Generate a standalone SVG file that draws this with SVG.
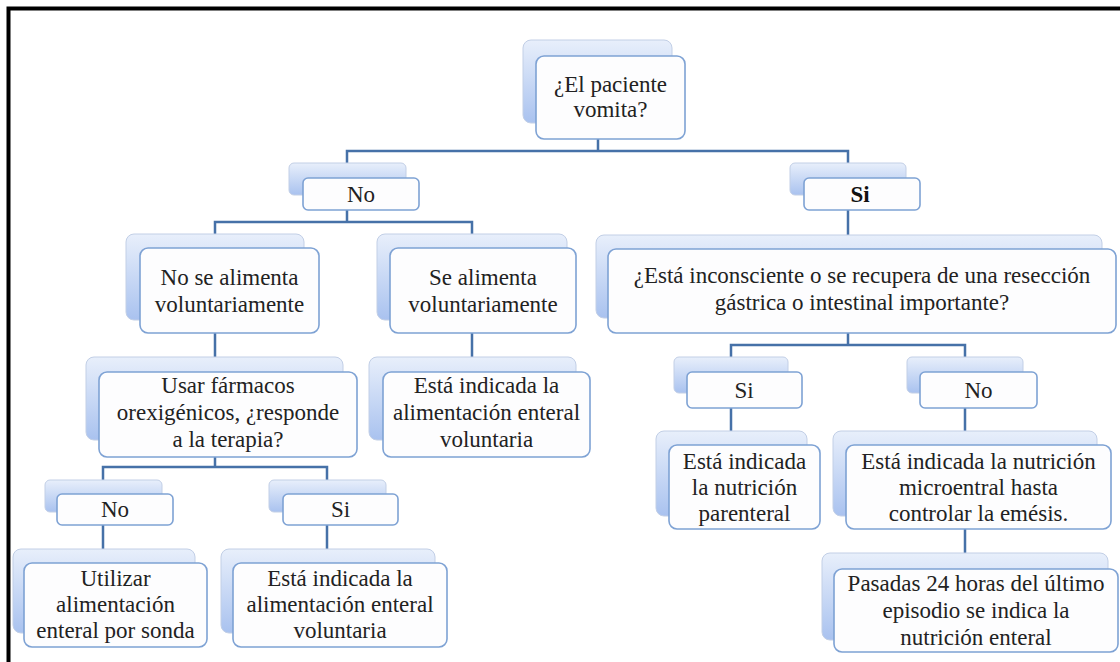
<svg xmlns="http://www.w3.org/2000/svg" width="1120" height="662" viewBox="0 0 1120 662">
<defs>
<linearGradient id="gb" x1="0" y1="0" x2="0" y2="1">
<stop offset="0" stop-color="#e8effb"/>
<stop offset="1" stop-color="#a9c2ef"/>
</linearGradient>
<style>
.bk{fill:url(#gb);stroke:#c2cfe6;stroke-width:1}
.fr{fill:#fdfdfe;stroke:#7ea2d4;stroke-width:1.6}
.t{font-family:'Liberation Serif','DejaVu Serif',serif;font-size:23px;fill:#222;text-anchor:middle}
.b{font-weight:bold;fill:#111}
.c{fill:none;stroke:#4671a8;stroke-width:2.5}
</style>
</defs>
<rect width="1120" height="662" fill="#fff"/>
<path d="M8.5,662 V8.5 H1120" fill="none" stroke="#000" stroke-width="4"/>
<g id="connectors">
<path class="c" d="M598,138 V151 M347,163 V151 H848 V163"/>
<path class="c" d="M347,210 V222 M215,234 V222 H472 V234"/>
<path class="c" d="M215,333 V357 M472,333 V357"/>
<path class="c" d="M215,457 V467 M103,480 V467 H327 V480"/>
<path class="c" d="M103,525 V549 M327,525 V549"/>
<path class="c" d="M848,210 V235"/>
<path class="c" d="M848,333 V345 M731,357 V345 H965 V357"/>
<path class="c" d="M731,408 V431 M965,408 V431 M965,529 V553"/>
</g>
<g id="root">
<rect class="bk" x="523" y="40" width="149" height="83" rx="8"/>
<rect class="fr" x="536" y="56" width="149" height="83" rx="8"/>
<text class="t" x="610.5" y="92" font-family="Liberation Serif, serif">¿El paciente</text>
<text class="t" x="610.5" y="117">vomita?</text>
</g>
<g id="no1">
<rect class="bk" x="289" y="163" width="117" height="32" rx="5"/>
<rect class="fr" x="303" y="178" width="116" height="32" rx="5"/>
<text class="t" x="361" y="202">No</text>
</g>
<g id="si1">
<rect class="bk" x="790" y="163" width="116" height="32" rx="5"/>
<rect class="fr" x="804" y="178" width="116" height="32" rx="5"/>
<text class="t b" x="860" y="202">Si</text>
</g>
<g id="noalim">
<rect class="bk" x="126" y="234" width="178" height="86" rx="8"/>
<rect class="fr" x="140" y="248" width="179" height="85" rx="8"/>
<text class="t" x="229.5" y="285">No se alimenta</text>
<text class="t" x="229.5" y="312">voluntariamente</text>
</g>
<g id="sealim">
<rect class="bk" x="377" y="234" width="190" height="86" rx="8"/>
<rect class="fr" x="390" y="248" width="186" height="85" rx="8"/>
<text class="t" x="483" y="285">Se alimenta</text>
<text class="t" x="483" y="312">voluntariamente</text>
</g>
<g id="bigq">
<rect class="bk" x="596" y="235" width="506" height="83" rx="8"/>
<rect class="fr" x="608" y="249" width="508" height="84" rx="8"/>
<text class="t" x="862" y="283">¿Está inconsciente o se recupera de una resección</text>
<text class="t" x="862" y="310">gástrica o intestinal importante?</text>
</g>
<g id="usar">
<rect class="bk" x="86" y="357" width="257" height="83" rx="8"/>
<rect class="fr" x="99" y="372" width="258" height="85" rx="8"/>
<text class="t" x="228" y="393">Usar fármacos</text>
<text class="t" x="228" y="420">orexigénicos, ¿responde</text>
<text class="t" x="228" y="447">a la terapia?</text>
</g>
<g id="esta1">
<rect class="bk" x="369" y="357" width="207" height="83" rx="8"/>
<rect class="fr" x="383" y="372" width="207" height="85" rx="8"/>
<text class="t" x="486.5" y="393">Está indicada la</text>
<text class="t" x="486.5" y="420">alimentación enteral</text>
<text class="t" x="486.5" y="447">voluntaria</text>
</g>
<g id="siR">
<rect class="bk" x="674" y="357" width="114" height="36" rx="5"/>
<rect class="fr" x="687" y="372" width="115" height="36" rx="5"/>
<text class="t" x="744" y="398">Si</text>
</g>
<g id="noR">
<rect class="bk" x="907" y="357" width="116" height="36" rx="5"/>
<rect class="fr" x="920" y="372" width="117" height="36" rx="5"/>
<text class="t" x="978.5" y="398">No</text>
</g>
<g id="noS">
<rect class="bk" x="45" y="480" width="117" height="32" rx="5"/>
<rect class="fr" x="57" y="494" width="116" height="31" rx="5"/>
<text class="t" x="115" y="517">No</text>
</g>
<g id="siS">
<rect class="bk" x="269" y="480" width="117" height="32" rx="5"/>
<rect class="fr" x="283" y="494" width="115" height="31" rx="5"/>
<text class="t" x="340.5" y="517">Si</text>
</g>
<g id="parenteral">
<rect class="bk" x="656" y="431" width="151" height="85" rx="8"/>
<rect class="fr" x="669" y="445" width="151" height="84" rx="8"/>
<text class="t" x="744.5" y="469">Está indicada</text>
<text class="t" x="744.5" y="495">la nutrición</text>
<text class="t" x="744.5" y="521">parenteral</text>
</g>
<g id="microentral">
<rect class="bk" x="833" y="431" width="264" height="85" rx="8"/>
<rect class="fr" x="846" y="445" width="265" height="84" rx="8"/>
<text class="t" x="978.5" y="469">Está indicada la nutrición</text>
<text class="t" x="978.5" y="495">microentral hasta</text>
<text class="t" x="978.5" y="521">controlar la emésis.</text>
</g>
<g id="utilizar">
<rect class="bk" x="13" y="549" width="182" height="84" rx="8"/>
<rect class="fr" x="24" y="563" width="183" height="84" rx="8"/>
<text class="t" x="115.5" y="586">Utilizar</text>
<text class="t" x="115.5" y="612">alimentación</text>
<text class="t" x="115.5" y="638">enteral por sonda</text>
</g>
<g id="esta2">
<rect class="bk" x="221" y="549" width="214" height="84" rx="8"/>
<rect class="fr" x="233" y="563" width="214" height="84" rx="8"/>
<text class="t" x="340" y="586">Está indicada la</text>
<text class="t" x="340" y="612">alimentación enteral</text>
<text class="t" x="340" y="638">voluntaria</text>
</g>
<g id="pasadas">
<rect class="bk" x="822" y="553" width="286" height="87" rx="8"/>
<rect class="fr" x="834" y="569" width="284" height="83" rx="8"/>
<text class="t" x="976" y="591">Pasadas 24 horas del último</text>
<text class="t" x="976" y="618">episodio se indica la</text>
<text class="t" x="976" y="645">nutrición enteral</text>
</g>
</svg>
